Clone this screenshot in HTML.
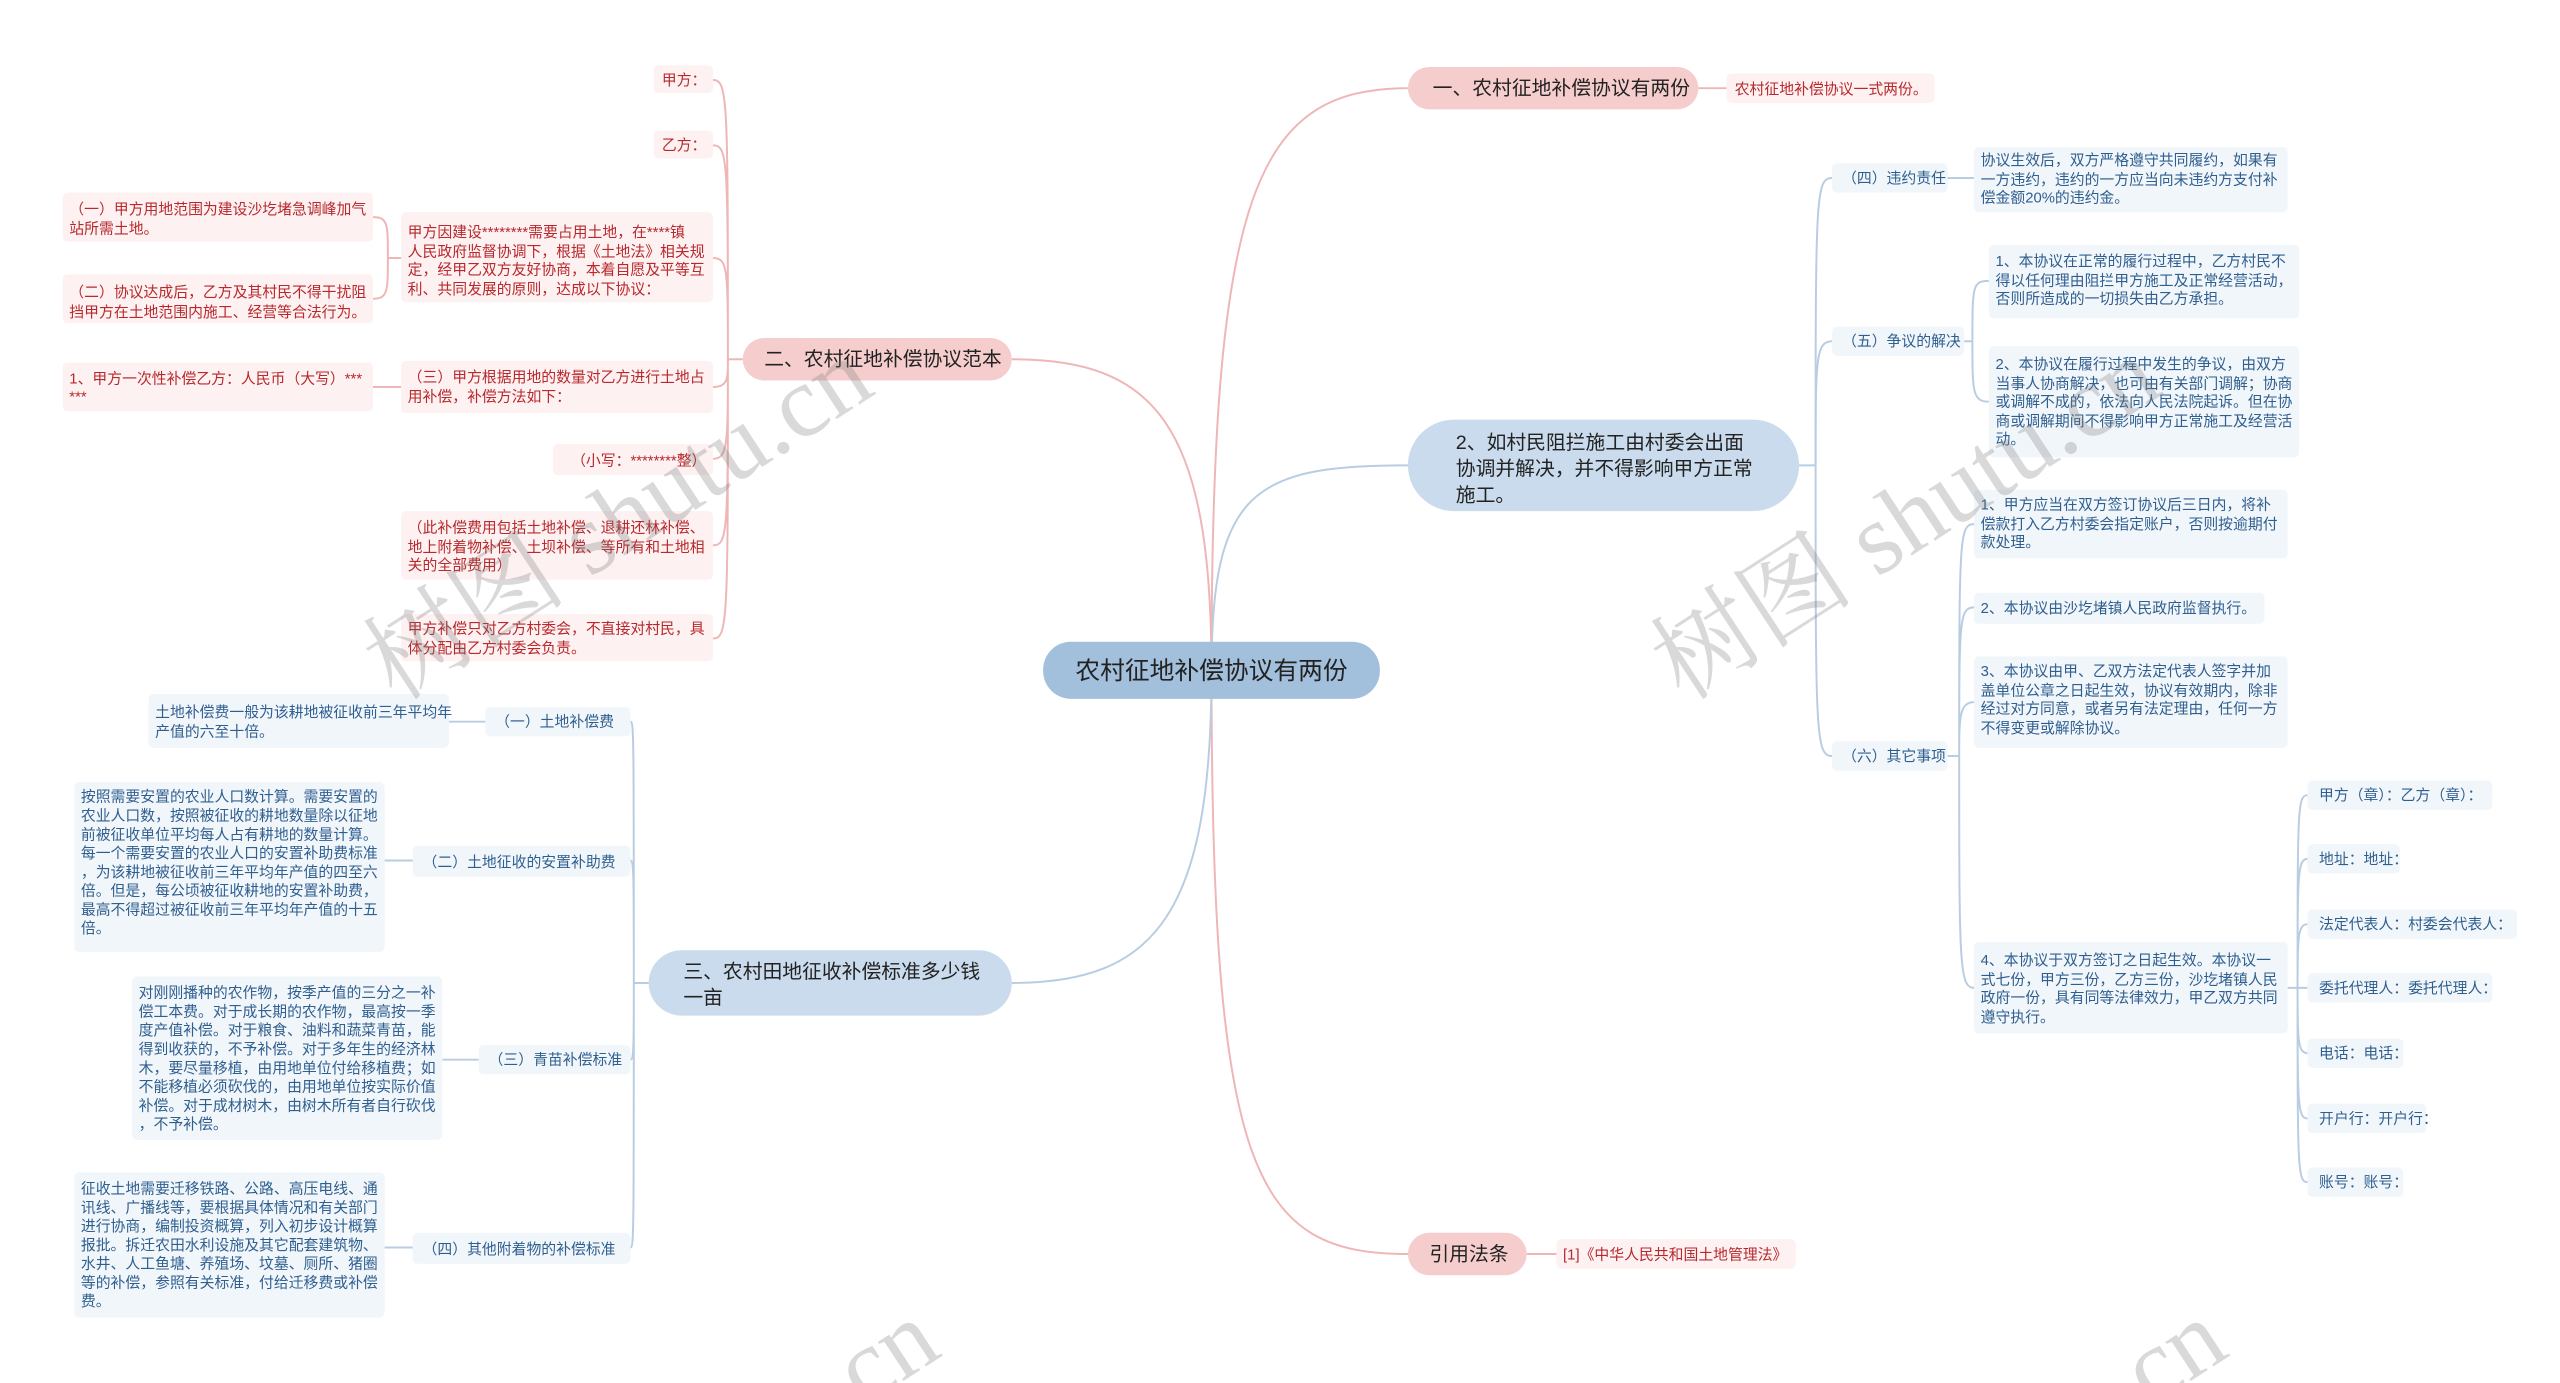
<!DOCTYPE html>
<html><head><meta charset="utf-8"><style>
html,body{margin:0;padding:0;background:#fff;overflow:hidden}
svg{display:block}
text{font-family:"Liberation Sans","Noto Sans CJK SC",sans-serif}
.m{font-size:12px;fill:#222}
.pr{font-size:9px;fill:#b8282c}
.bl{font-size:9px;fill:#2f5f8f}
.pb{fill:#fdf1f1}
.bb{fill:#f1f6fb}
.pl{stroke:#efb6b6;stroke-width:1.2;fill:none}
.bll{stroke:#b9cde2;stroke-width:1.2;fill:none}
.wm{font-family:"Liberation Serif","Noto Serif CJK SC",serif;font-size:62px;fill:rgba(120,120,120,0.28)}
</style></head><body>
<svg width="2560" height="1383" viewBox="0 0 1551 847" preserveAspectRatio="none" xmlns="http://www.w3.org/2000/svg">
<!-- main connectors -->
<path class="pl" d="M734,411 C734,120 760,54 853,54"/>
<path class="bll" d="M734,411 C734,300 760,285 853,285"/>
<path class="pl" d="M734,411 C734,720 760,768 853,768"/>
<path class="pl" d="M734,411 C734,260 700,220 613,220"/>
<path class="bll" d="M734,411 C734,560 700,602 613,602"/>

<!-- center -->
<rect x="632" y="393" width="204" height="35" rx="17" fill="#a2bfdc"/>
<text x="734" y="416" font-size="15" fill="#222" text-anchor="middle">农村征地补偿协议有两份</text>

<!-- 一 -->
<rect x="853" y="41" width="176" height="26" rx="13" fill="#f6cdcd"/>
<text class="m" x="868" y="58">一、农村征地补偿协议有两份</text>
<path class="pl" d="M1029,54 L1046,54"/>
<rect class="pb" x="1046" y="45" width="126" height="18" rx="3"/>
<text class="pr" x="1051" y="57.5">农村征地补偿协议一式两份。</text>

<!-- 引用法条 -->
<rect x="853" y="755" width="72" height="26" rx="13" fill="#f6cdcd"/>
<text class="m" x="866" y="772">引用法条</text>
<path class="pl" d="M925,768 L943,768"/>
<rect class="pb" x="943" y="759" width="145" height="18" rx="3"/>
<text class="pr" x="947" y="771.5">[1]《中华人民共和国土地管理法》</text>

<!-- 2、 -->
<rect x="853" y="257" width="237" height="56" rx="28" fill="#c9dbec"/>
<text class="m" x="882" y="275">2、如村民阻拦施工由村委会出面</text>
<text class="m" x="882" y="291">协调并解决，并不得影响甲方正常</text>
<text class="m" x="882" y="307">施工。</text>
<path class="bll" d="M1090,285 L1100,285"/>
<path class="bll" d="M1100,285 C1100,120 1100,109 1110,109"/>
<path class="bll" d="M1100,285 C1100,220 1100,209 1110,209"/>
<path class="bll" d="M1100,285 C1100,450 1100,463 1110,463"/>
<!-- 四 -->
<rect class="bb" x="1110" y="100" width="70" height="18" rx="3"/>
<text class="bl" x="1116" y="112">（四）违约责任</text>
<path class="bll" d="M1180,109 L1196,109"/>
<rect class="bb" x="1196" y="90" width="190" height="40" rx="3"/>
<text class="bl" x="1200" y="101">协议生效后，双方严格遵守共同履约，如果有</text>
<text class="bl" x="1200" y="113">一方违约，违约的一方应当向未违约方支付补</text>
<text class="bl" x="1200" y="124">偿金额20%的违约金。</text>
<!-- 五 -->
<rect class="bb" x="1110" y="200" width="80" height="18" rx="3"/>
<text class="bl" x="1116" y="212">（五）争议的解决</text>
<path class="bll" d="M1190,209 L1195,209 M1195,209 C1195,175 1195,172 1205,172 M1195,209 C1195,240 1195,246 1205,246"/>
<rect class="bb" x="1205" y="150" width="188" height="45" rx="3"/>
<text class="bl" x="1209" y="163">1、本协议在正常的履行过程中，乙方村民不</text>
<text class="bl" x="1209" y="175">得以任何理由阻拦甲方施工及正常经营活动，</text>
<text class="bl" x="1209" y="186">否则所造成的一切损失由乙方承担。</text>
<rect class="bb" x="1205" y="212" width="188" height="68" rx="3"/>
<text class="bl" x="1209" y="226">2、本协议在履行过程中发生的争议，由双方</text>
<text class="bl" x="1209" y="238">当事人协商解决，也可由有关部门调解；协商</text>
<text class="bl" x="1209" y="249">或调解不成的，依法向人民法院起诉。但在协</text>
<text class="bl" x="1209" y="261">商或调解期间不得影响甲方正常施工及经营活</text>
<text class="bl" x="1209" y="272">动。</text>
<!-- 六 -->
<rect class="bb" x="1110" y="454" width="70" height="18" rx="3"/>
<text class="bl" x="1116" y="466">（六）其它事项</text>
<path class="bll" d="M1180,463 L1187,463 M1187,463 C1187,330 1187,321 1196,321 M1187,463 C1187,380 1187,372 1196,372 M1187,463 C1187,440 1187,430 1196,430 M1187,463 C1187,590 1187,605 1196,605"/>
<rect class="bb" x="1196" y="300" width="190" height="42" rx="3"/>
<text class="bl" x="1200" y="312">1、甲方应当在双方签订协议后三日内，将补</text>
<text class="bl" x="1200" y="324">偿款打入乙方村委会指定账户，否则按逾期付</text>
<text class="bl" x="1200" y="335">款处理。</text>
<rect class="bb" x="1196" y="363" width="176" height="19" rx="3"/>
<text class="bl" x="1200" y="375.5">2、本协议由沙圪堵镇人民政府监督执行。</text>
<rect class="bb" x="1196" y="402" width="190" height="56" rx="3"/>
<text class="bl" x="1200" y="414">3、本协议由甲、乙双方法定代表人签字并加</text>
<text class="bl" x="1200" y="426">盖单位公章之日起生效，协议有效期内，除非</text>
<text class="bl" x="1200" y="437">经过对方同意，或者另有法定理由，任何一方</text>
<text class="bl" x="1200" y="449">不得变更或解除协议。</text>
<rect class="bb" x="1196" y="577" width="190" height="56" rx="3"/>
<text class="bl" x="1200" y="591">4、本协议于双方签订之日起生效。本协议一</text>
<text class="bl" x="1200" y="603">式七份，甲方三份，乙方三份，沙圪堵镇人民</text>
<text class="bl" x="1200" y="614">政府一份，具有同等法律效力，甲乙双方共同</text>
<text class="bl" x="1200" y="626">遵守执行。</text>
<path class="bll" d="M1386,605 L1392,605 M1392,605 C1392,495 1392,487 1398,487 M1392,605 C1392,535 1392,526 1398,526 M1392,605 C1392,575 1392,566 1398,566 M1392,605 L1398,605 M1392,605 C1392,636 1392,645 1398,645 M1392,605 C1392,676 1392,685 1398,685 M1392,605 C1392,716 1392,724 1398,724"/>
<rect class="bb" x="1398" y="478" width="112" height="18" rx="3"/><text class="bl" x="1405" y="490">甲方（章）：乙方（章）：</text>
<rect class="bb" x="1398" y="517" width="56" height="18" rx="3"/><text class="bl" x="1405" y="529">地址：地址：</text>
<rect class="bb" x="1398" y="557" width="127" height="18" rx="3"/><text class="bl" x="1405" y="569">法定代表人：村委会代表人：</text>
<rect class="bb" x="1398" y="596" width="112" height="18" rx="3"/><text class="bl" x="1405" y="608">委托代理人：委托代理人：</text>
<rect class="bb" x="1398" y="636" width="58" height="18" rx="3"/><text class="bl" x="1405" y="648">电话：电话：</text>
<rect class="bb" x="1398" y="676" width="72" height="18" rx="3"/><text class="bl" x="1405" y="688">开户行：开户行：</text>
<rect class="bb" x="1398" y="715" width="58" height="18" rx="3"/><text class="bl" x="1405" y="727">账号：账号：</text>

<!-- 二 -->
<rect x="450" y="207" width="163" height="26" rx="13" fill="#f6cdcd"/>
<text class="m" x="463" y="224">二、农村征地补偿协议范本</text>
<path class="pl" d="M450,220 L441,220 M441,220 C441,60 441,49 432,49 M441,220 C441,98 441,89 432,89 M441,220 C441,165 441,158 432,158 M441,220 C441,232 441,237 432,237 M441,220 C441,272 441,281 432,281 M441,220 C441,325 441,334 432,334 M441,220 C441,380 441,391 432,391"/>
<rect class="pb" x="396" y="40" width="36" height="17" rx="3"/><text class="pr" x="401" y="52">甲方：</text>
<rect class="pb" x="396" y="80" width="36" height="17" rx="3"/><text class="pr" x="401" y="92">乙方：</text>
<rect class="pb" x="243" y="130" width="189" height="55" rx="3"/>
<text class="pr" x="247" y="145">甲方因建设********需要占用土地，在****镇</text>
<text class="pr" x="247" y="157">人民政府监督协调下，根据《土地法》相关规</text>
<text class="pr" x="247" y="168">定，经甲乙双方友好协商，本着自愿及平等互</text>
<text class="pr" x="247" y="180">利、共同发展的原则，达成以下协议：</text>
<path class="pl" d="M243,158 L235,158 M235,158 C235,137 235,133 226,133 M235,158 C235,178 235,183 226,183"/>
<rect class="pb" x="38" y="118" width="188" height="30" rx="3"/>
<text class="pr" x="42" y="131">（一）甲方用地范围为建设沙圪堵急调峰加气</text>
<text class="pr" x="42" y="143">站所需土地。</text>
<rect class="pb" x="38" y="168" width="188" height="30" rx="3"/>
<text class="pr" x="42" y="182">（二）协议达成后，乙方及其村民不得干扰阻</text>
<text class="pr" x="42" y="194">挡甲方在土地范围内施工、经营等合法行为。</text>
<rect class="pb" x="243" y="221" width="189" height="32" rx="3"/>
<text class="pr" x="247" y="234">（三）甲方根据用地的数量对乙方进行土地占</text>
<text class="pr" x="247" y="246">用补偿，补偿方法如下：</text>
<path class="pl" d="M226,237 L243,237"/>
<rect class="pb" x="38" y="222" width="188" height="30" rx="3"/>
<text class="pr" x="42" y="235">1、甲方一次性补偿乙方：人民币（大写）***</text>
<text class="pr" x="42" y="246">***</text>
<rect class="pb" x="335" y="272" width="97" height="19" rx="3"/>
<text class="pr" x="346" y="285">（小写：********整）</text>
<rect class="pb" x="243" y="313" width="189" height="42" rx="3"/>
<text class="pr" x="247" y="326">（此补偿费用包括土地补偿、退耕还林补偿、</text>
<text class="pr" x="247" y="338">地上附着物补偿、土坝补偿、等所有和土地相</text>
<text class="pr" x="247" y="349">关的全部费用）</text>
<rect class="pb" x="243" y="376" width="189" height="29" rx="3"/>
<text class="pr" x="247" y="388">甲方补偿只对乙方村委会，不直接对村民，具</text>
<text class="pr" x="247" y="400">体分配由乙方村委会负责。</text>

<!-- 三 -->
<rect x="393" y="582" width="220" height="40" rx="20" fill="#c9dbec"/>
<text class="m" x="414" y="599">三、农村田地征收补偿标准多少钱</text>
<text class="m" x="414" y="615">一亩</text>
<path class="bll" d="M393,602 L384,602 M384,602 C384,450 384,442 382,442 M384,602 C384,535 384,527 382,527 M384,602 C384,640 384,649 382,649 M384,602 C384,755 384,764 382,764"/>
<rect class="bb" x="294" y="433" width="88" height="18" rx="3"/><text class="bl" x="300" y="445">（一）土地补偿费</text>
<path class="bll" d="M272,442 L294,442"/>
<rect class="bb" x="90" y="425" width="182" height="33" rx="3"/>
<text class="bl" x="94" y="439">土地补偿费一般为该耕地被征收前三年平均年</text>
<text class="bl" x="94" y="451">产值的六至十倍。</text>
<rect class="bb" x="250" y="518" width="132" height="19" rx="3"/><text class="bl" x="256" y="531">（二）土地征收的安置补助费</text>
<path class="bll" d="M233,527 L250,527"/>
<rect class="bb" x="45" y="479" width="188" height="104" rx="3"/>
<text class="bl" x="49" y="491">按照需要安置的农业人口数计算。需要安置的</text>
<text class="bl" x="49" y="502.5">农业人口数，按照被征收的耕地数量除以征地</text>
<text class="bl" x="49" y="514">前被征收单位平均每人占有耕地的数量计算。</text>
<text class="bl" x="49" y="525.5">每一个需要安置的农业人口的安置补助费标准</text>
<text class="bl" x="49" y="537">，为该耕地被征收前三年平均年产值的四至六</text>
<text class="bl" x="49" y="548.5">倍。但是，每公顷被征收耕地的安置补助费，</text>
<text class="bl" x="49" y="560">最高不得超过被征收前三年平均年产值的十五</text>
<text class="bl" x="49" y="571.5">倍。</text>
<rect class="bb" x="290" y="640" width="92" height="18" rx="3"/><text class="bl" x="296" y="652">（三）青苗补偿标准</text>
<path class="bll" d="M268,649 L290,649"/>
<rect class="bb" x="80" y="598" width="188" height="100" rx="3"/>
<text class="bl" x="84" y="611">对刚刚播种的农作物，按季产值的三分之一补</text>
<text class="bl" x="84" y="622.5">偿工本费。对于成长期的农作物，最高按一季</text>
<text class="bl" x="84" y="634">度产值补偿。对于粮食、油料和蔬菜青苗，能</text>
<text class="bl" x="84" y="645.5">得到收获的，不予补偿。对于多年生的经济林</text>
<text class="bl" x="84" y="657">木，要尽量移植，由用地单位付给移植费；如</text>
<text class="bl" x="84" y="668.5">不能移植必须砍伐的，由用地单位按实际价值</text>
<text class="bl" x="84" y="680">补偿。对于成材树木，由树木所有者自行砍伐</text>
<text class="bl" x="84" y="691.5">，不予补偿。</text>
<rect class="bb" x="250" y="755" width="132" height="19" rx="3"/><text class="bl" x="256" y="768">（四）其他附着物的补偿标准</text>
<path class="bll" d="M233,764 L250,764"/>
<rect class="bb" x="45" y="718" width="188" height="89" rx="3"/>
<text class="bl" x="49" y="731">征收土地需要迁移铁路、公路、高压电线、通</text>
<text class="bl" x="49" y="742.5">讯线、广播线等，要根据具体情况和有关部门</text>
<text class="bl" x="49" y="754">进行协商，编制投资概算，列入初步设计概算</text>
<text class="bl" x="49" y="765.5">报批。拆迁农田水利设施及其它配套建筑物、</text>
<text class="bl" x="49" y="777">水井、人工鱼塘、养殖场、坟墓、厕所、猪圈</text>
<text class="bl" x="49" y="788.5">等的补偿，参照有关标准，付给迁移费或补偿</text>
<text class="bl" x="49" y="800">费。</text>

<!-- watermarks -->
<text class="wm" transform="translate(240,430) rotate(-33)">树图 shutu.cn</text>
<text class="wm" transform="translate(1020,430) rotate(-33)">树图 shutu.cn</text>
<text class="wm" transform="translate(510,870) rotate(-33)">.cn</text>
<text class="wm" transform="translate(1290,870) rotate(-33)">.cn</text>
</svg>
</body></html>
